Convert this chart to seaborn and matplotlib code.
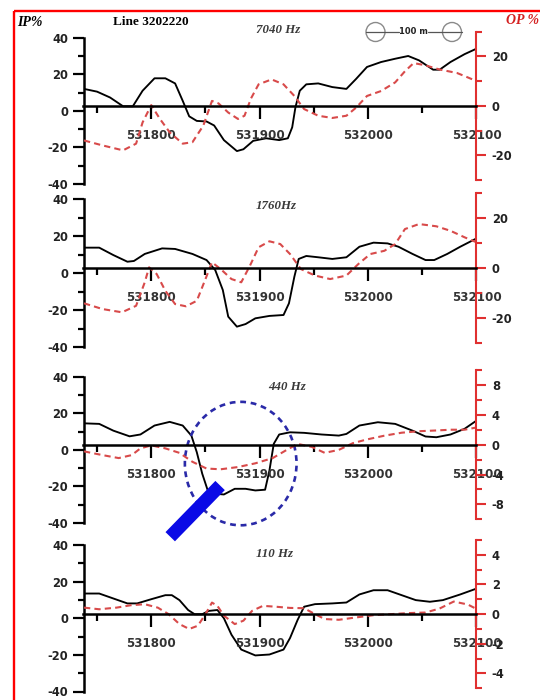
import matplotlib
matplotlib.use("Agg")
import numpy as np
import matplotlib.pyplot as plt
from matplotlib.patches import Ellipse, Rectangle, Circle
from matplotlib.ticker import MultipleLocator, FixedLocator, FixedFormatter
import seaborn as sns

# ---------------- Line 3202220 : IP / OP profiles against easting (m) ----------------
# 7040 Hz
ip_7040_x = [531738, 531750, 531762, 531774, 531783, 531792, 531803, 531813, 531822, 531829,
             531835, 531842, 531851, 531858, 531867, 531879, 531885, 531894, 531906, 531918,
             531926, 531930, 531933, 531937, 531943, 531954, 531967, 531980, 531989, 531999,
             532012, 532025, 532037, 532047, 532060, 532066, 532076, 532089, 532100]
ip_7040 = [12, 10.5, 7.3, 2.5, 2.5, 11, 17.8, 17.8, 15, 5.5,
           -3, -5.5, -5.8, -8, -16, -22, -21, -16.4, -15, -16,
           -15, -9, 2, 11, 14.5, 15, 13, 12, 17.5, 24,
           26.7, 28.5, 30, 27.6, 22.5, 22.5, 26.7, 31, 34]
op_7040_x = [531738, 531755, 531774, 531786, 531792, 531800, 531808, 531817, 531829, 531838,
             531848, 531856, 531862, 531871, 531880, 531886, 531892, 531899, 531911, 531922,
             531932, 531941, 531954, 531967, 531980, 531989, 531999, 532012, 532025, 532034,
             532042, 532052, 532066, 532082, 532092, 532100]
op_7040 = [-14, -16, -18, -15.3, -6.7, 0.3, -5.3, -10.7, -15.3, -14.7,
           -8, 2, 1, -2.7, -5.3, -4, 3, 8.7, 10.7, 8.7,
           4, -1.3, -4, -4.9, -4, -0.7, 4, 6, 9.5, 14,
           17.3, 16.5, 14.7, 13.3, 11.5, 10]

# 1760 Hz
ip_1760_x = [531738, 531752, 531765, 531778, 531784, 531794, 531810, 531822, 531838, 531851,
             531859, 531866, 531871, 531879, 531887, 531896, 531909, 531922, 531927, 531932,
             531936, 531943, 531954, 531967, 531980, 531992, 532005, 532018, 532028, 532041,
             532053, 532061, 532073, 532085, 532100]
ip_1760 = [13.7, 13.7, 9.7, 6.1, 6.5, 10.3, 13.3, 13, 10.3, 7,
           1.6, -9.2, -23.6, -29, -27.6, -24.5, -23.2, -22.7, -16.4, -2,
           7.6, 9.2, 8.5, 7.6, 8.5, 14.2, 16.4, 16, 14.2, 10.3,
           7, 7, 10.3, 14.2, 18.7]
op_1760_x = [531738, 531755, 531773, 531786, 531794, 531798, 531805, 531813, 531822, 531832,
             531842, 531850, 531856, 531864, 531874, 531883, 531891, 531899, 531909, 531919,
             531928, 531938, 531951, 531965, 531980, 531991, 532002, 532015, 532025, 532034,
             532047, 532063, 532076, 532089, 532100]
op_1760 = [-14, -16.3, -17.6, -15, -5.6, 0.4, -2.3, -9, -14.3, -15.2,
           -13, -4.3, 2.4, -0.3, -4.3, -5.6, 1, 8.4, 10.8, 9.7,
           5.7, -0.3, -2.9, -4.3, -2.9, 1.7, 5.7, 7, 9.7, 15.7,
           17.7, 16.8, 15, 12.4, 10.4]

# 440 Hz
ip_440_x = [531738, 531752, 531765, 531780, 531790, 531803, 531817, 531829, 531837, 531842,
            531847, 531852, 531859, 531867, 531877, 531887, 531896, 531905, 531909, 531913,
            531918, 531928, 531941, 531957, 531973, 531980, 531992, 532009, 532025, 532041,
            532053, 532063, 532076, 532089, 532100]
ip_440 = [14.5, 14.2, 10.5, 7.4, 8.4, 13.3, 15.3, 13.3, 7.8, -1.3,
          -13, -22, -24, -24.4, -21.3, -21.3, -22.2, -21.8, -11.3, 3.3,
          8.4, 9.6, 9.3, 8.4, 7.8, 8.7, 13.3, 15.1, 14.2, 10.5,
          7.3, 6.9, 8.4, 11.5, 16]
op_440_x = [531738, 531755, 531770, 531782, 531790, 531800, 531813, 531826, 531838, 531851,
            531864, 531880, 531896, 531912, 531925, 531935, 531948, 531960, 531973, 531986,
            531999, 532015, 532031, 532047, 532063, 532076, 532089, 532100]
op_440 = [-0.9, -1.4, -1.8, -1.4, -0.5, -0.1, -0.5, -1.1, -2.3, -3.2,
          -3.3, -3, -2.5, -1.8, -0.7, 0.1, -0.3, -1.1, -0.7, 0.2,
          0.7, 1.2, 1.6, 1.8, 1.9, 2, 2, 2.3]

# 110 Hz
ip_110_x = [531738, 531752, 531765, 531778, 531787, 531800, 531813, 531819, 531826, 531834,
            531840, 531847, 531853, 531861, 531867, 531874, 531883, 531896, 531909, 531922,
            531928, 531935, 531941, 531951, 531967, 531980, 531992, 532005, 532018, 532031,
            532044, 532057, 532069, 532085, 532100]
ip_110 = [13.5, 13.5, 10.8, 8.1, 8.1, 10.4, 12.6, 12.6, 9.9, 4.5,
          2.2, 2.2, 4, 4.5, 0, -9, -17.1, -20.3, -19.8, -17.1,
          -10.8, -0.9, 6.3, 7.7, 8.1, 8.6, 13, 15.3, 15.3, 12.6,
          9.9, 9, 9.9, 13, 16.2]
op_110_x = [531738, 531752, 531768, 531781, 531794, 531806, 531816, 531826, 531835, 531843,
            531850, 531856, 531861, 531867, 531877, 531885, 531893, 531903, 531915, 531928,
            531941, 531951, 531960, 531973, 531989, 532005, 532021, 532037, 532053, 532066,
            532079, 532092, 532100]
op_110 = [0.44, 0.33, 0.44, 0.6, 0.67, 0.44, 0, -0.67, -1.0, -0.78,
          0, 0.78, 0.56, -0.1, -0.67, -0.44, 0.22, 0.56, 0.5, 0.42,
          0.4, 0, -0.33, -0.38, -0.22, -0.07, 0, 0.07, 0.11, 0.38,
          0.85, 0.65, 0.35]

frequencies = ["7040 Hz", "1760Hz", "440 Hz", "110 Hz"]
ip_series = [(ip_7040_x, ip_7040), (ip_1760_x, ip_1760), (ip_440_x, ip_440), (ip_110_x, ip_110)]
op_series = [(op_7040_x, op_7040), (op_1760_x, op_1760), (op_440_x, op_440), (op_110_x, op_110)]

op_limits = [30, 30, 10, 5]
op_major_ticks = [[-20, 0, 20], [-20, 0, 20], [-8, -4, 0, 4, 8], [-4, -2, 0, 2, 4]]
op_minor_steps = [10, 10, 2, 1]
ip_limit = 40
ip_major_ticks = [-40, -20, 0, 20, 40]
ip_minor_ticks = [-30, -10, 10, 30]
easting_ticks = [531800, 531900, 532000, 532100]
easting_labels = ["531800", "531900", "532000", "532100"]
easting_minor = [531750, 531850, 531950, 532050]
X_MIN, X_MAX = 531737.5, 532100

# highlighted anomaly on the 440 Hz profile
anomaly_center = (531882.5, -7.5)
anomaly_size = (103, 67.5)
pointer_x = [531817.5, 531863.5]
pointer_y = [-47.5, -19.5]

# ---------------- styling ----------------
sns.set_style("white")
plt.rcParams["font.family"] = ["DejaVu Sans"]
plt.rcParams["font.weight"] = "bold"
plt.rcParams["axes.unicode_minus"] = False

W, H = 540, 700
RED = "#e03030"
RED_DASH = "#d84a4a"
DARK = "#222222"
TITLE_GREY = "#3a3a3a"
SERIF = ["Liberation Serif", "DejaVu Serif"]

fig = plt.figure(figsize=(W / 100, H / 100), dpi=100)
fig.patch.set_facecolor("white")

LEFT_PX, RIGHT_PX = 83.5, 476.5
ip_boxes = [(37.7, 184), (199, 347), (376.7, 523), (545, 691.5)]
op_boxes = [(31.7, 180), (193.3, 343.3), (370, 519.3), (540, 688.3)]


def px_box(top, bottom, left=LEFT_PX, right=RIGHT_PX):
    return [left / W, 1 - bottom / H, (right - left) / W, (bottom - top) / H]


ip_axes = []
for i in range(4):
    ax_ip = fig.add_axes(px_box(*ip_boxes[i]))
    ax_op = fig.add_axes(px_box(*op_boxes[i]), sharex=ax_ip)
    for a in (ax_ip, ax_op):
        a.patch.set_alpha(0)
        a.grid(False)

    # IP curve (left axis)
    sns.lineplot(x=np.array(ip_series[i][0]), y=np.array(ip_series[i][1]), ax=ax_ip,
                 color="black", linewidth=1.35, estimator=None, sort=False)
    # OP curve (right axis)
    sns.lineplot(x=np.array(op_series[i][0]), y=np.array(op_series[i][1]), ax=ax_op,
                 color=RED_DASH, linewidth=1.5, linestyle=(0, (3, 2)), estimator=None, sort=False)

    ax_ip.set_xlim(X_MIN, X_MAX)
    ax_ip.set_ylim(-ip_limit, ip_limit)
    ax_op.set_ylim(-op_limits[i], op_limits[i])
    for a in (ax_ip, ax_op):
        a.set_xlabel("")
        a.set_ylabel("")

    # left IP axis
    for s in ("top", "right", "bottom"):
        ax_ip.spines[s].set_visible(False)
    ax_ip.spines["left"].set_linewidth(1.8)
    ax_ip.spines["left"].set_color("black")
    ax_ip.yaxis.set_major_locator(FixedLocator(ip_major_ticks))
    ax_ip.yaxis.set_minor_locator(FixedLocator(ip_minor_ticks))
    ax_ip.tick_params(axis="y", which="major", direction="out", length=8, width=1.6,
                      pad=3, labelsize=8.3, labelcolor=DARK, color="black", left=True)
    ax_ip.tick_params(axis="y", which="minor", direction="out", length=4.5, width=1.6,
                      color="black", left=True)
    ax_ip.tick_params(axis="x", which="both", bottom=False, labelbottom=False)

    # right OP axis and easting axis along OP = 0
    ax_op.spines["left"].set_visible(False)
    ax_op.spines["top"].set_visible(False)
    ax_op.spines["right"].set_color(RED)
    ax_op.spines["right"].set_linewidth(1.5)
    ax_op.spines["bottom"].set_position(("data", 0))
    ax_op.spines["bottom"].set_linewidth(1.8)
    ax_op.spines["bottom"].set_color("black")
    ax_op.yaxis.tick_right()
    ax_op.yaxis.set_major_locator(FixedLocator(op_major_ticks[i]))
    ax_op.yaxis.set_minor_locator(MultipleLocator(op_minor_steps[i]))
    ax_op.tick_params(axis="y", which="major", direction="out", length=7, width=1.5,
                      pad=4, labelsize=8.3, color=RED, labelcolor=DARK, right=True, left=False)
    ax_op.tick_params(axis="y", which="minor", direction="out", length=4.5, width=1.5,
                      color=RED, right=True, left=False)
    ax_op.xaxis.set_major_locator(FixedLocator(easting_ticks))
    ax_op.xaxis.set_major_formatter(FixedFormatter(easting_labels))
    ax_op.xaxis.set_minor_locator(FixedLocator(easting_minor))
    ax_op.tick_params(axis="x", which="major", direction="out", length=9.5, width=1.6,
                      pad=7, labelsize=8.6, labelcolor="#333333", color="black", bottom=True)
    ax_op.tick_params(axis="x", which="minor", direction="out", length=5, width=1.6,
                      color="black", bottom=True)
    ax_op.set_xlim(X_MIN, X_MAX)
    ip_axes.append(ax_ip)

# anomaly marker on the 440 Hz panel
ax3 = ip_axes[2]
ax3.add_patch(Ellipse(anomaly_center, anomaly_size[0], anomaly_size[1], fill=False,
                      edgecolor="#2a2aa8", linewidth=1.9, linestyle=(0, (2.2, 1.8)),
                      clip_on=False, zorder=5))
ax3.plot(pointer_x, pointer_y, color="#0a0ae6", linewidth=9.5, solid_capstyle="butt",
         clip_on=False, zorder=6)

# ---------------- annotations in pixel space ----------------
ov = fig.add_axes([0, 0, 1, 1], zorder=10)
ov.set_xlim(0, W)
ov.set_ylim(H, 0)
ov.axis("off")

ov.add_patch(Rectangle((14, 10.5), 560, 720, fill=False, edgecolor="#ff0000",
                       linewidth=1.7, clip_on=False))

ov.text(17, 23, "IP%", fontfamily=SERIF, fontstyle="italic", fontweight="bold",
        fontsize=10, color="black", ha="left", va="center")
ov.text(113, 22, "Line 3202220", fontfamily=SERIF, fontweight="bold",
        fontsize=9.5, color="black", ha="left", va="center")
ov.text(506, 21, "OP %", fontfamily=SERIF, fontstyle="italic", fontweight="bold",
        fontsize=10, color="#d42020", ha="left", va="center")

title_pos = [(278, 30), (276, 206), (287, 387), (274, 554)]
for (tx, ty), label in zip(title_pos, frequencies):
    ov.text(tx, ty, label, fontfamily=SERIF, fontstyle="italic", fontweight="bold",
            fontsize=9.3, color=TITLE_GREY, ha="center", va="center")

# 100 m scale bar
for cx in (375.5, 452):
    ov.add_patch(Circle((cx, 32), 9.5, fill=False, edgecolor="#8a8a8a", linewidth=1.0))
ov.plot([366, 399], [32, 32], color="#555555", linewidth=0.9)
ov.plot([428, 461.5], [32, 32], color="#555555", linewidth=0.9)
ov.text(413.5, 31.5, "100 m", fontsize=6, color=DARK, ha="center", va="center")

fig.savefig("out.png", dpi=100, facecolor="white")
